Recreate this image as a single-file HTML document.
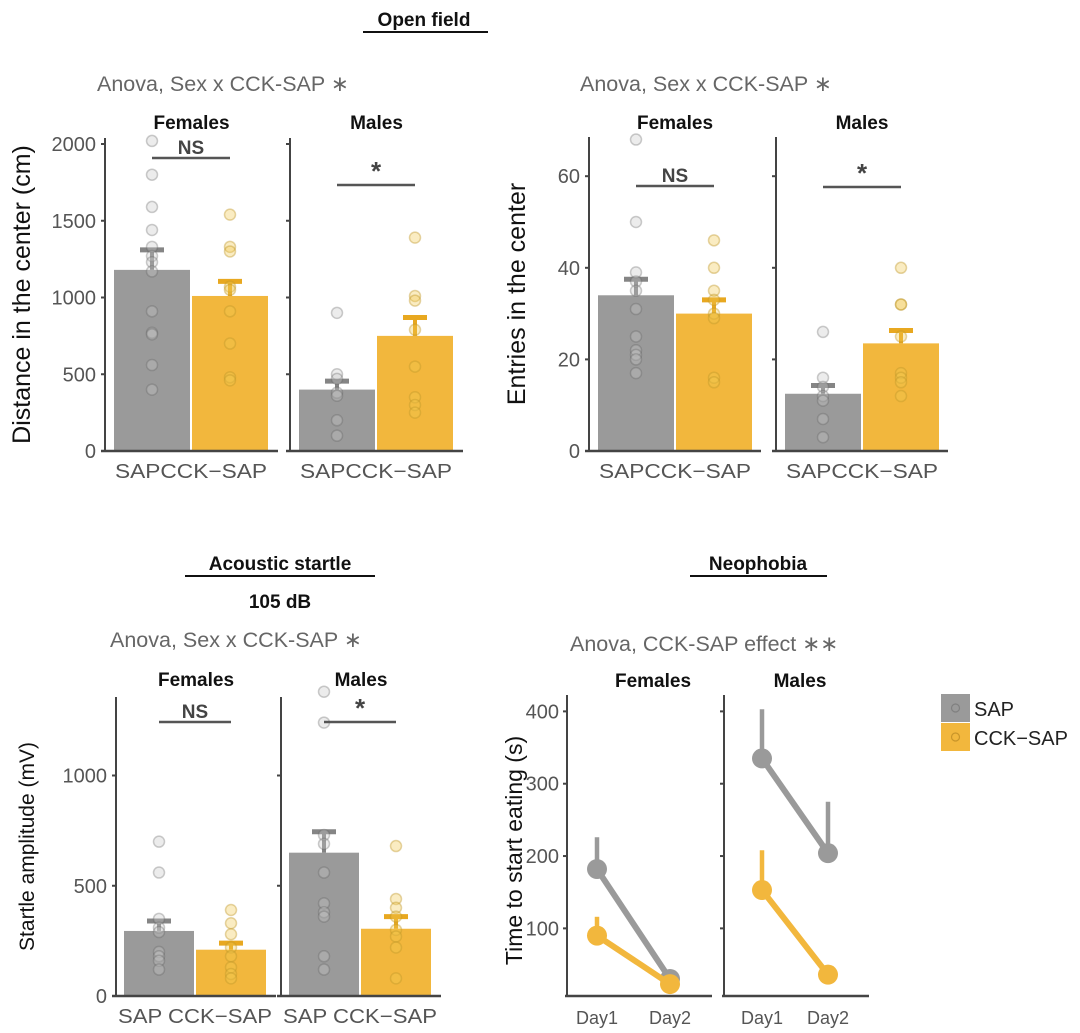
<!DOCTYPE html>
<html><head><meta charset="utf-8"><style>
body{margin:0;background:#fff;}
svg{display:block;font-family:"Liberation Sans",Arial,sans-serif;}
</style></head><body>
<svg id="c" width="1080" height="1033" viewBox="0 0 1080 1033"></svg>
<script>
// ===== Data =====
const groups = ["SAP","CCK-SAP"];
const sexes = ["Females","Males"];
// Panel 1: Distance in the center (cm)
const distMeans = [[1180,1010],[400,750]];
const distSE = [[130,95],[55,120]];
const distPts = [
 [[2020,1800,1590,1440,1330,1270,1230,1170,910,770,760,560,400],[1540,1330,1300,1070,1050,910,700,480,460]],
 [[900,500,470,380,360,200,100],[1390,1010,980,790,550,350,300,250]]];
const distTicks = [0,500,1000,1500,2000];
// Panel 2: Entries in the center
const entMeans = [[34,30],[12.5,23.5]];
const entSE = [[3.5,3],[1.8,2.8]];
const entPts = [
 [[68,50,39,37,35,31,25,22,21,20,17],[46,40,35,33,30,29,16,15]],
 [[26,16,14,12,11,7,3],[40,32,32,25,17,16,15,12]]];
const entTicks = [0,20,40,60];
// Panel 3: Startle amplitude (mV)
const stMeans = [[295,210],[650,305]];
const stSE = [[45,30],[95,55]];
const stPts = [
 [[700,560,350,310,290,200,180,160,120],[390,330,280,220,180,130,100,80]],
 [[1380,1240,730,690,560,420,380,360,180,120],[680,440,400,360,300,270,220,80]]];
const stTicks = [0,500,1000];
// Panel 4: Time to start eating (s)
const days = ["Day1","Day2"];
const neoMeans = [[[182,30],[90,23]],[[335,204],[153,36]]];
const neoUpper = [[[226,30],[116,23]],[[403,275],[208,36]]];
const neoTicks = [100,200,300,400];

// ===== Helpers =====
const NS="http://www.w3.org/2000/svg";
const svg=document.getElementById('c');
const GRAY="#9a9a9a", GOLD="#f2b73d", cols=[GRAY,GOLD];
function mk(tag,attrs,parent){const e=document.createElementNS(NS,tag);for(const k in attrs)e.setAttribute(k,attrs[k]);(parent||svg).appendChild(e);return e;}
function txt(s,x,y,attrs,parent){const e=mk('text',Object.assign({x:x,y:y},attrs),parent);e.textContent=s;return e;}
function line(x1,y1,x2,y2,st,w,parent){return mk('line',{x1,y1,x2,y2,stroke:st,'stroke-width':w},parent);}

function barPanel(cfg){
  const g=mk('g',{});
  
  
  const y=v=>cfg.y0-(v-cfg.vmin)*cfg.k;
  const yt=txt(cfg.ytitle,0,0,{'font-size':cfg.ytSize,fill:'#111','text-anchor':'middle',transform:`translate(${cfg.ytX},${(cfg.y0+cfg.top)/2}) rotate(-90)`},g);
  
  cfg.ticks.forEach(t=>{
    const tl=txt(String(t),cfg.axes[0]-9,y(t)+7,{'font-size':20,fill:'#555','text-anchor':'end'},g);
    
  });
  for(let s=0;s<2;s++){
    const ax=cfg.axes[s];
    const fg=mk('g',{},g);
    
    
    const ft=txt(sexes[s],ax+cfg.fw/2,cfg.labY,{'font-size':19,'font-weight':'bold',fill:'#111','text-anchor':'middle'},fg);
    
    for(let gi=0;gi<2;gi++){
      const bx=ax+cfg.pad+gi*(cfg.bw+2);
      const m=cfg.means[s][gi],se=cfg.se[s][gi];
      const r=mk('rect',{x:bx,y:y(m),width:cfg.bw,height:cfg.y0-y(m),fill:cols[gi]},fg);
      
      
      const cx=bx+cfg.bw/2;
      line(cx,y(m),cx,y(m+se),gi?'#e8a820':'#858585',4,fg);
      line(cx-12,y(m+se),cx+12,y(m+se),gi?'#e8a820':'#858585',5,fg);
      cfg.pts[s][gi].forEach(p=>{
        const c=mk('circle',{cx:cx,cy:y(p),r:5.5,fill:gi?'rgba(242,200,80,0.35)':'rgba(200,200,200,0.35)',stroke:gi?'rgba(190,150,40,0.4)':'rgba(90,90,90,0.3)','stroke-width':1.5},fg);
        
      });
    }
    line(ax,cfg.top,ax,cfg.y0,'#444',2,fg);
    line(ax-4,cfg.y0,ax+cfg.fw,cfg.y0,'#444',2.5,fg);
    cfg.ticks.forEach(t=>line(ax-4,y(t),ax,y(t),'#444',2,fg));
    const xl=txt(cfg.xlab,ax+cfg.pad+cfg.bw+1,cfg.y0+27,{'font-size':20,fill:'#555','text-anchor':'middle',textLength:cfg.xlw,lengthAdjust:'spacingAndGlyphs'},fg);
    
    const sx1=ax+cfg.pad+cfg.bw/2, sx2=sx1+cfg.bw+2;
    const sy=cfg.sigY[s];
    line(sx1,sy,sx2,sy,'#555',2.5,fg);
    const st=txt(s?'*':'NS',(sx1+sx2)/2,s?sy-5:sy-4,{'font-size':s?26:19,'font-weight':'bold',fill:'#444','text-anchor':'middle'},fg);
    
  }
}

function title(s,x,y,ul,name){const t=txt(s,x,y,{'font-size':19,'font-weight':'bold',fill:'#111','text-anchor':'middle'});if(ul)line(ul[0],y+6,ul[1],y+6,'#111',2);}
title('Open field',424,26,[363,488],'open-field-title');
title('Acoustic startle',280,570,[185,375],'acoustic-startle-title');
title('105 dB',280,608,null,'db-subtitle');
title('Neophobia',758,570,[690,827],'neophobia-title');
function anova(s,x,y,name){const t=txt(s,x,y,{'font-size':21.5,fill:'#666'});}
anova('Anova, Sex x CCK-SAP \u2217',97,91,'anova-distance');
anova('Anova, Sex x CCK-SAP \u2217',580,91,'anova-entries');
anova('Anova, Sex x CCK-SAP \u2217',110,647,'anova-startle');
anova('Anova, CCK-SAP effect \u2217\u2217',570,651,'anova-neophobia');

barPanel({name:'distance-chart',ytitle:'Distance in the center (cm)',ytSize:25,ytX:30,y0:451,vmin:0,k:0.1535,top:138,
  ticks:distTicks,axes:[105,290],fw:173,pad:9,bw:76,labY:129,means:distMeans,se:distSE,pts:distPts,xlab:'SAPCCK\u2212SAP',xlw:152,sigY:[158,185]});
barPanel({name:'entries-chart',ytitle:'Entries in the center',ytSize:25,ytX:525,y0:451,vmin:0,k:4.58,top:137,
  ticks:entTicks,axes:[589,776],fw:172,pad:9,bw:76,labY:129,means:entMeans,se:entSE,pts:entPts,xlab:'SAPCCK\u2212SAP',xlw:152,sigY:[186,187]});
barPanel({name:'startle-chart',ytitle:'Startle amplitude (mV)',ytSize:21,ytX:34,y0:996,vmin:0,k:0.2205,top:697,
  ticks:stTicks,axes:[116,281],fw:160,pad:8,bw:70,labY:686,means:stMeans,se:stSE,pts:stPts,xlab:'SAP CCK\u2212SAP',xlw:154,sigY:[722,722]});

(function(){
  const g=mk('g',{});
  
  
  const y0=996,vmin=6.5,k=0.7233,top=695;
  const y=v=>y0-(v-vmin)*k;
  const axes=[567,724],fw=145,dx=[[597,670],[762,828]];
  const yt=txt('Time to start eating (s)',0,0,{'font-size':23,fill:'#111','text-anchor':'middle',transform:`translate(522,${(y0+top)/2+5}) rotate(-90)`},g);
  
  neoTicks.forEach(t=>{const tl=txt(String(t),axes[0]-8,y(t)+7,{'font-size':20,fill:'#555','text-anchor':'end'},g);});
  const labX=[653,800];
  for(let s=0;s<2;s++){
    const ax=axes[s];
    const fg=mk('g',{},g);
    
    
    const ft=txt(sexes[s],labX[s],687,{'font-size':19,'font-weight':'bold',fill:'#111','text-anchor':'middle'},fg);
    
    line(ax,top,ax,y0,'#444',2,fg);
    line(ax-2,y0,ax+fw,y0,'#444',2.5,fg);
    neoTicks.forEach(t=>line(ax-4,y(t),ax,y(t),'#444',2,fg));
    days.forEach((d,i)=>{const dl=txt(d,dx[s][i],y0+28,{'font-size':18,fill:'#555','text-anchor':'middle'},fg);});
    for(let gi=0;gi<2;gi++){
      const m=neoMeans[s][gi],u=neoUpper[s][gi];
      const c=cols[gi];
      days.forEach((d,i)=>{ if(u[i]>m[i]) line(dx[s][i],y(m[i]),dx[s][i],y(u[i]),c,4.5,fg); });
      const l=line(dx[s][0],y(m[0]),dx[s][1],y(m[1]),c,6,fg);
      
      
      days.forEach((d,i)=>{const p=mk('circle',{cx:dx[s][i],cy:y(m[i]),r:10,fill:c},fg);});
    }
  }
  const lg=mk('g',{},g);
  
  
  groups.forEach((gname,i)=>{
    const e=mk('g',{},lg);
    
    
    mk('rect',{x:941,y:694+i*29,width:29,height:28,fill:cols[i]},e);
    mk('circle',{cx:955.5,cy:708+i*29,r:4,fill:'none',stroke:i?'#c9952a':'#808080','stroke-width':1.2},e);
    txt(gname==='CCK-SAP'?'CCK\u2212SAP':gname,974,716+i*29,{'font-size':20,fill:'#222'},e);
  });
})();
</script>
</body></html>
